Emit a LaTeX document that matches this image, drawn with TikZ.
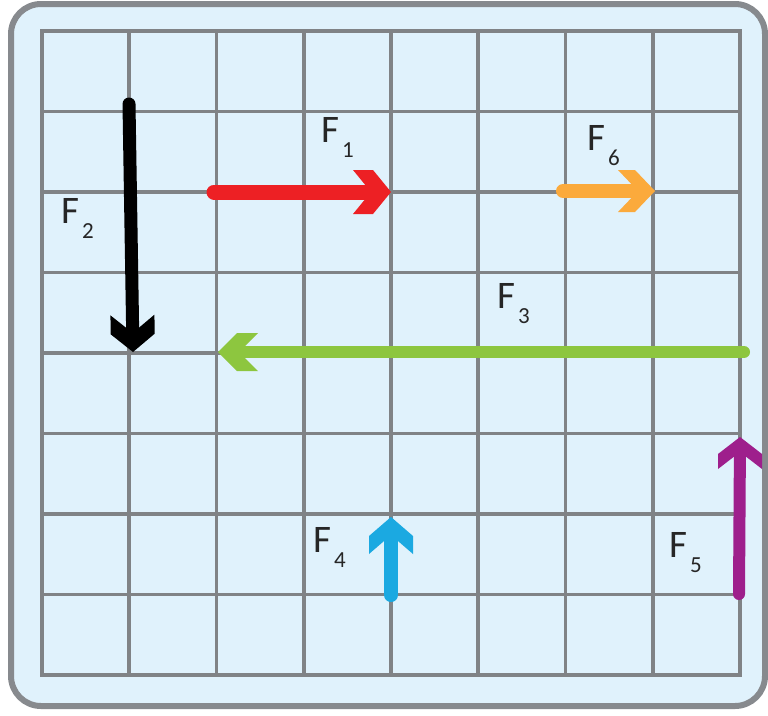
\documentclass[tikz,border=0pt]{standalone}
\usepackage{fontspec}
\setmainfont{Carlito}
\definecolor{bgblue}{RGB}{224,242,252}
\definecolor{gridgray}{RGB}{128,131,134}
\definecolor{framegray}{RGB}{135,138,142}
\definecolor{fred}{RGB}{237,32,36}
\definecolor{forange}{RGB}{251,170,60}
\definecolor{fgreen}{RGB}{141,198,63}
\definecolor{fblue}{RGB}{27,169,225}
\definecolor{fpurple}{RGB}{158,31,140}
\newcommand\flabel[1]{F\kern3pt\raisebox{-15pt}{\fontsize{23}{23}\selectfont #1}}
% tip, angle, colour, half width, diagonal length, flat length
\newcommand\chev[6]{\fill[#3, shift={#1}, rotate=#2] (0,0) -- (-#5,-#4) -- ({-#5-#6},-#4) -- (-#6,0) -- ({-#5-#6},#4) -- (-#5,#4) -- cycle;}
\tikzset{
  shaft/.style={line width=#1, line cap=round, shorten >=16pt},
  lab/.style={anchor=base west, inner sep=0pt, font=\fontsize{39}{39}\selectfont, text=black!85}
}
\begin{document}
\begin{tikzpicture}[x=1pt,y=-1pt]
\useasboundingbox (0,0) rectangle (768,715);
\draw[framegray, line width=6pt, fill=bgblue, rounded corners=30pt] (11,4) rectangle (765,706);
% grid
\foreach \i in {0,...,8}{
  \draw[gridgray, line width=3.8pt] ({42+87.25*\i},31) -- ({42+87.25*\i},675);
  \draw[gridgray, line width=3.8pt] (42,{31+80.5*\i}) -- (740,{31+80.5*\i});
}
\draw[gridgray, line width=3.8pt, line join=miter] (42,31) rectangle (740,675);
% coordinates
\coordinate (f1a) at (214,192); \coordinate (f1b) at (391,192);
\coordinate (f2a) at (129,104); \coordinate (f2b) at (133,352);
\coordinate (f3a) at (744,352); \coordinate (f3b) at (218,352);
\coordinate (f4a) at (391,595); \coordinate (f4b) at (391,517);
\coordinate (f5a) at (739,594); \coordinate (f5b) at (740,437);
\coordinate (f6a) at (563,191); \coordinate (f6b) at (655,191);
% arrows
\draw[fred, shaft=15pt] (f1a) -- (f1b); \chev{(f1b)}{0}{fred}{22}{18}{20}
\draw[black, shaft=13pt] (f2a) -- (f2b); \chev{(f2b)}{-89.1}{black}{22}{18}{19}
\draw[fgreen, shaft=12pt] (f3a) -- (f3b); \chev{(f3b)}{180}{fgreen}{19}{19}{21}
\draw[fblue, shaft=14pt] (f4a) -- (f4b); \chev{(f4b)}{90}{fblue}{22}{19}{18}
\draw[fpurple, shaft=12pt] (f5a) -- (f5b); \chev{(f5b)}{90}{fpurple}{22}{17}{15}
\draw[forange, shaft=14pt] (f6a) -- (f6b); \chev{(f6b)}{0}{forange}{21}{20}{17}
% labels
\node[lab] (l1) at (321,142) {\flabel{1}};
\node[lab] (l2) at (61,223) {\flabel{2}};
\node[lab] (l3) at (497,308) {\flabel{3}};
\node[lab] (l4) at (313,552) {\flabel{4}};
\node[lab] (l5) at (669,557) {\flabel{5}};
\node[lab] (l6) at (587,150) {\flabel{6}};
\end{tikzpicture}
\end{document}
